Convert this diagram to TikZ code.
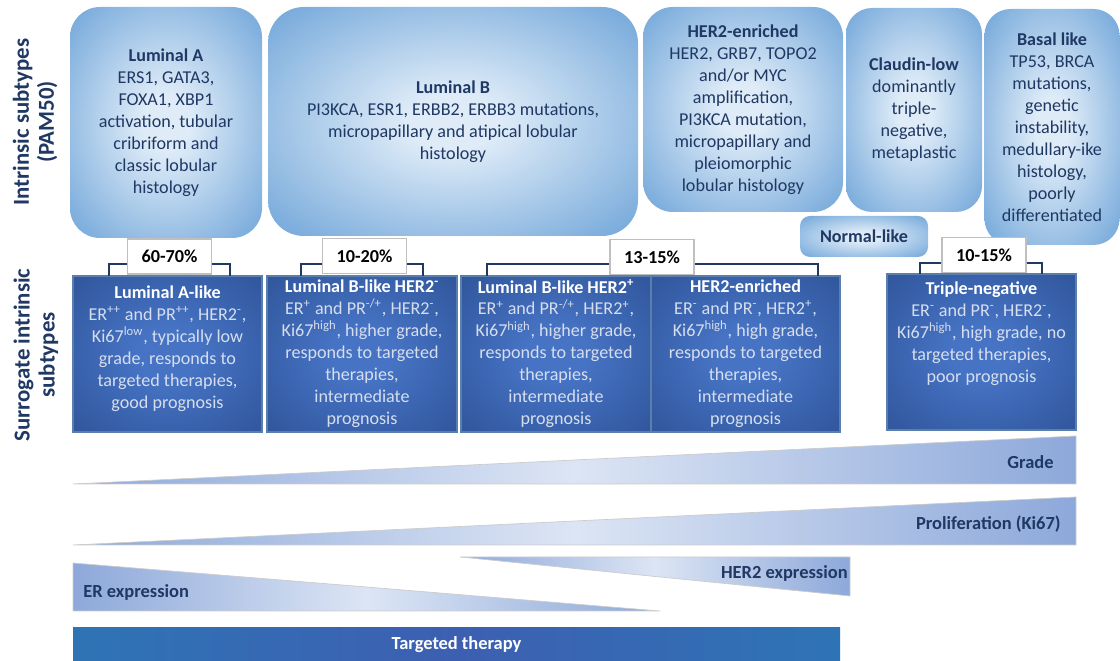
\documentclass[tikz,border=0pt]{standalone}
\usepackage{fontspec}
\setmainfont{Carlito}
\usepackage{xcolor}
\usepackage{tikz}
\usetikzlibrary{calc}

\definecolor{textnavy}{HTML}{1F3864}
\definecolor{topin}{HTML}{DFECF8}
\definecolor{topout}{HTML}{5896D2}
\definecolor{darkin}{HTML}{4673C4}
\definecolor{darkout}{HTML}{284B8C}
\definecolor{darkedge}{HTML}{5A7FAD}
\definecolor{darktext}{HTML}{D6DEEE}
\definecolor{wedgeend}{HTML}{8DA8DA}
\definecolor{wedgemid}{HTML}{DCE5F4}
\definecolor{therapyend}{HTML}{2E74B5}
\definecolor{therapymid}{HTML}{3D5FB1}

\pgfdeclareradialshading{topglow}{\pgfpoint{0bp}{0bp}}{color(0bp)=(topin); color(6bp)=(topin); color(42bp)=(topout); color(60bp)=(topout)}
\pgfdeclareradialshading{darkglow}{\pgfpoint{0bp}{0bp}}{color(0bp)=(darkin); color(8bp)=(darkin); color(46bp)=(darkout); color(60bp)=(darkout)}

\newlength{\pxu}
\setlength{\pxu}{0.02cm}

\tikzset{
  subtype/.style={rounded corners=30\pxu, shading=topglow, align=center, text=textnavy,
    font=\fontsize{10.3}{12.5}\selectfont, inner sep=0pt},
  surrogate/.style={draw=darkedge, line width=0.8pt, shading=darkglow, inner sep=0pt,
    minimum width=190\pxu, minimum height=156\pxu},
  surrtext/.style={anchor=north, align=center, text=darktext,
    font=\fontsize{10.3}{12.5}\selectfont, inner sep=0pt},
  share/.style={draw=black!25, fill=white, line width=0.6pt, minimum width=84\pxu,
    minimum height=35\pxu, inner sep=0pt, font=\fontsize{10.4}{12}\selectfont\bfseries},
  bracket/.style={draw=textnavy, line width=0.9pt},
  sidelabel/.style={rotate=90, align=center, text=textnavy, font=\fontsize{13}{14.2}\selectfont\bfseries},
  wedge/.style={draw=black!20, line width=0.4pt, left color=wedgeend, right color=wedgeend, middle color=wedgemid},
  wedgelabel/.style={text=textnavy, font=\fontsize{10.5}{12}\selectfont\bfseries, inner sep=0pt},
  therapy/.style={left color=therapyend, right color=therapyend, middle color=therapymid,
    text=white, font=\fontsize{10.5}{12}\selectfont\bfseries, inner sep=0pt,
    minimum width=767\pxu, minimum height=33\pxu}
}

\begin{document}
\begin{tikzpicture}[x=0.02cm, y=-0.02cm]
\useasboundingbox (0,0) rectangle (1120,661);

\node[sidelabel] (intrinsic) at (35,122) {Intrinsic subtypes\\(PAM50)};
\node[sidelabel] (surrlabel) at (36,355) {Surrogate intrinsic\\subtypes};

\node[subtype, minimum width=192\pxu, minimum height=231\pxu] (lumA) at (166,122.5)
  {\textbf{Luminal A}\\ERS1, GATA3,\\FOXA1, XBP1\\activation, tubular\\cribriform and\\classic lobular\\histology};
\node[subtype, rounded corners=36\pxu, minimum width=370\pxu, minimum height=229\pxu] (lumB) at (453,121.5)
  {\textbf{Luminal B}\\PI3KCA, ESR1, ERBB2, ERBB3 mutations,\\micropapillary and atipical lobular\\histology};
\node[subtype, minimum width=200\pxu, minimum height=205\pxu] (her2) at (743,109.5)
  {\textbf{HER2-enriched}\\HER2, GRB7, TOPO2\\and/or MYC\\amplification,\\PI3KCA mutation,\\micropapillary and\\pleiomorphic\\lobular histology};
\node[subtype, rounded corners=26\pxu, minimum width=136\pxu, minimum height=204\pxu] (claudin) at (914,110)
  {\textbf{Claudin-low}\\dominantly\\triple-\\negative,\\metaplastic};
\node[subtype, rounded corners=26\pxu, minimum width=135\pxu, minimum height=236\pxu] (basal) at (1052,127)
  {\textbf{Basal like}\\TP53, BRCA\\mutations,\\genetic\\instability,\\medullary-ike\\histology,\\poorly\\differentiated};
\node[subtype, rounded corners=10\pxu, minimum width=128\pxu, minimum height=41\pxu] (normal) at (864,236.5)
  {\textbf{Normal-like}};

\node[surrogate, minimum width=189\pxu] (lumAlike) at (167.5,354) {};
\node[surrogate] (lumBneg) at (362,354) {};
\node[surrogate] (lumBpos) at (556,354) {};
\node[surrogate, minimum width=189\pxu] (her2e) at (745.5,354) {};
\node[surrogate, minimum width=189\pxu] (tneg) at (981.5,352) {};

\node[surrtext] (lumAlikeT) at ($(lumAlike.north)+(0,10)$)
  {\textcolor{white}{\textbf{Luminal A-like}}\\ER\textsuperscript{++} and PR\textsuperscript{++}, HER2\textsuperscript{-},\\Ki67\textsuperscript{low}, typically low\\grade, responds to\\targeted therapies,\\good prognosis};
\node[surrtext] (lumBnegT) at ($(lumBneg.north)+(0,4)$)
  {\textcolor{white}{\textbf{Luminal B-like HER2\textsuperscript{-}}}\\ER\textsuperscript{+} and PR\textsuperscript{-/+}, HER2\textsuperscript{-},\\Ki67\textsuperscript{high}, higher grade,\\responds to targeted\\therapies,\\intermediate\\prognosis};
\node[surrtext] (lumBposT) at ($(lumBpos.north)+(0,4)$)
  {\textcolor{white}{\textbf{Luminal B-like HER2\textsuperscript{+}}}\\ER\textsuperscript{+} and PR\textsuperscript{-/+}, HER2\textsuperscript{+},\\Ki67\textsuperscript{high}, higher grade,\\responds to targeted\\therapies,\\intermediate\\prognosis};
\node[surrtext] (her2eT) at ($(her2e.north)+(0,4)$)
  {\textcolor{white}{\textbf{HER2-enriched}}\\ER\textsuperscript{-} and PR\textsuperscript{-}, HER2\textsuperscript{+},\\Ki67\textsuperscript{high}, high grade,\\responds to targeted\\therapies,\\intermediate\\prognosis};
\node[surrtext] (tnegT) at ($(tneg.north)+(0,8)$)
  {\textcolor{white}{\textbf{Triple-negative}}\\ER\textsuperscript{-} and PR\textsuperscript{-}, HER2\textsuperscript{-},\\Ki67\textsuperscript{high}, high grade, no\\targeted therapies,\\poor prognosis};

\coordinate (b1l) at (109,276);
\coordinate (b1r) at (230,276);
\coordinate (b2l) at (301,276);
\coordinate (b2r) at (423,276);
\coordinate (b3l) at (487,276);
\coordinate (b3r) at (818,276);
\coordinate (b4l) at (920,274);
\coordinate (b4r) at (1042,274);
\draw[bracket] (b1l) -- ++(0,-12) -| (b1r);
\draw[bracket] (b2l) -- ++(0,-12) -| (b2r);
\draw[bracket] (b3l) -- ++(0,-12) -| (b3r);
\draw[bracket] (b4l) -- ++(0,-11) -| (b4r);

\node[share] (p1) at (169.5,256.5) {60-70\%};
\node[share] (p2) at (364.5,256) {10-20\%};
\node[share] (p3) at (652,257) {13-15\%};
\node[share] (p4) at (984,255) {10-15\%};

\draw[wedge] (73,484) -- (1076,436) -- (1076,484) -- cycle;
\draw[wedge] (73,545) -- (1076,497) -- (1076,545) -- cycle;
\draw[wedge] (73,563) -- (660,611) -- (73,611) -- cycle;
\draw[wedge] (460,557) -- (850,557) -- (850,596) -- cycle;

\node[wedgelabel, anchor=east] (grade) at (1054,462) {Grade};
\node[wedgelabel, anchor=east] (prolif) at (1061,524) {Proliferation (Ki67)};
\node[wedgelabel, anchor=west] (erexp) at (83,592) {ER expression};
\node[wedgelabel, anchor=east] (her2exp) at (848,573) {HER2 expression};

\node[therapy] (targeted) at (456.5,644.5) {Targeted therapy};

\end{tikzpicture}
\end{document}
